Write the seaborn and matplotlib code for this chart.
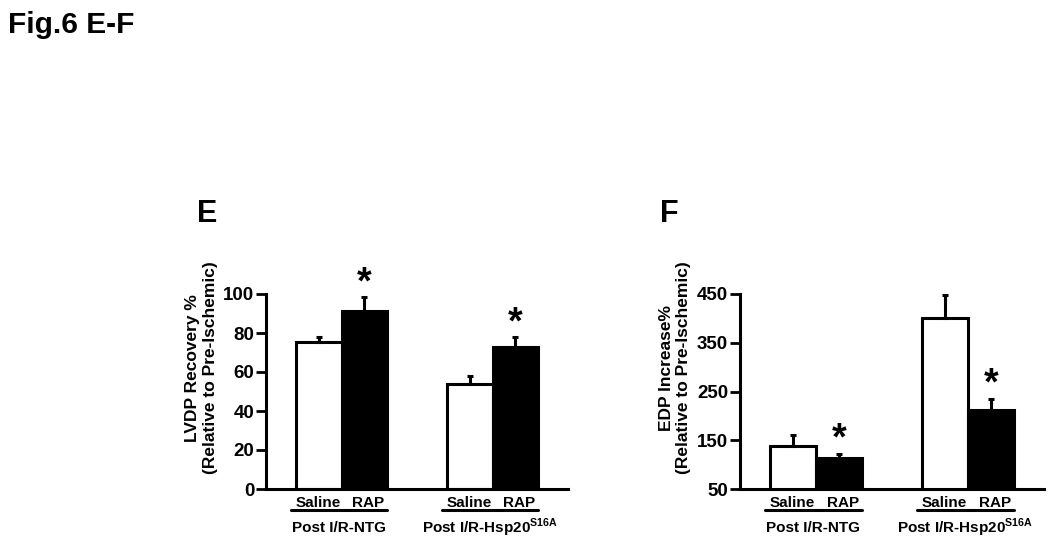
import pandas as pd
import seaborn as sns
import matplotlib.pyplot as plt

# values (mean and upper SEM)
groups = ["Post I/R-NTG", "Post I/R-Hsp20$^{\\mathbf{S16A}}$"]
treatments = ["Saline", "RAP"]

lvdp_mean = [75.5, 91.3, 53.7, 73.0]
lvdp_err = [2.3, 7.0, 4.4, 4.8]
lvdp_sig = [False, True, False, True]

edp_mean = [139.0, 113.0, 400.0, 213.0]
edp_err = [21.0, 8.5, 48.0, 22.0]
edp_sig = [False, True, False, True]

sns.set_style("ticks")
plt.rcParams["font.family"] = ["Liberation Sans", "DejaVu Sans"]
plt.rcParams["font.weight"] = "bold"
plt.rcParams["text.color"] = "black"
plt.rcParams["axes.labelcolor"] = "black"
plt.rcParams["xtick.color"] = "black"
plt.rcParams["ytick.color"] = "black"
plt.rcParams["mathtext.fontset"] = "custom"
plt.rcParams["mathtext.rm"] = "Liberation Sans:bold"
plt.rcParams["mathtext.bf"] = "Liberation Sans:bold"


def make_df(means):
    rows = []
    i = 0
    for g in groups:
        for t in treatments:
            rows.append({"group": g, "treatment": t, "value": means[i]})
            i += 1
    return pd.DataFrame(rows)


def draw_panel(ax, means, errs, sig, ylim, yticks, ylabel):
    df = make_df(means)
    sns.barplot(data=df, x="group", y="value", hue="treatment", order=groups,
                hue_order=treatments, palette={"Saline": "white", "RAP": "black"},
                edgecolor="black", linewidth=2.2, width=0.6, gap=0,
                errorbar=None, legend=False, ax=ax)

    bars = sorted(ax.patches, key=lambda p: p.get_x())
    xs = [b.get_x() + b.get_width() / 2 for b in bars]
    ax.errorbar(xs, means, yerr=[[0] * len(errs), errs], fmt="none",
                ecolor="black", elinewidth=2.2, capsize=2.5, capthick=2.2, zorder=1)

    for x, m, e, s in zip(xs, means, errs, sig):
        if s:
            ax.annotate("*", xy=(x, m + e), xytext=(0, 3), textcoords="offset points",
                        ha="center", va="baseline", fontsize=27, fontweight="bold",
                        color="black")

    ax.set_xlim(-0.5, 1.5)
    ax.set_ylim(*ylim)
    ax.set_yticks(yticks)
    ax.set_xticks([])
    ax.set_xlabel("")
    ax.set_ylabel(ylabel, fontsize=12.5, fontweight="bold", linespacing=1.2,
                  color="black")
    ax.yaxis.set_label_coords(-0.16, 0.62)
    ax.tick_params(axis="y", direction="out", length=7.5, width=2, pad=1,
                   labelsize=13.5, colors="black")
    for lab in ax.get_yticklabels():
        lab.set_fontweight("bold")
    sns.despine(ax=ax)
    for sp in ["left", "bottom"]:
        ax.spines[sp].set_linewidth(2.2)
        ax.spines[sp].set_color("black")

    # treatment labels, group underlines and group names
    for i, g in enumerate(groups):
        b1, b2 = bars[2 * i], bars[2 * i + 1]
        for b, t, dx in zip((b1, b2), treatments, (-0.5, 3)):
            ax.annotate(t, xy=(b.get_x() + b.get_width() / 2, 0),
                        xycoords=("data", "axes fraction"), xytext=(dx, -10),
                        textcoords="offset points", ha="center", va="center",
                        fontsize=11, fontweight="bold", color="black",
                        annotation_clip=False)
        x0 = b1.get_x() - 0.035
        x1 = b2.get_x() + b2.get_width()
        ax.plot([x0, x1], [-0.108, -0.108], color="black", lw=2.2,
                transform=ax.get_xaxis_transform(), clip_on=False)
        ax.annotate(g, xy=((x0 + x1) / 2, 0), xycoords=("data", "axes fraction"),
                    xytext=(0, -28), textcoords="offset points", ha="center",
                    va="center", fontsize=11, fontweight="bold", color="black",
                    annotation_clip=False)


fig = plt.figure(figsize=(10.5, 5.48), dpi=100)
ax_e = fig.add_axes([266 / 1050, 59 / 548, 302 / 1050, 195 / 548])
ax_f = fig.add_axes([740 / 1050, 59 / 548, 304 / 1050, 195 / 548])

draw_panel(ax_e, lvdp_mean, lvdp_err, lvdp_sig, (0, 100), [0, 20, 40, 60, 80, 100],
           "LVDP Recovery %\n(Relative to Pre-Ischemic)")
draw_panel(ax_f, edp_mean, edp_err, edp_sig, (50, 450), [50, 150, 250, 350, 450],
           "EDP Increase%\n(Relative to Pre-Ischemic)")

fig.text(8 / 1050, 1 - 11 / 548, "Fig.6 E-F", ha="left", va="top",
         fontsize=21.5, fontweight="bold")
fig.text(197 / 1050, 1 - 199 / 548, "E", ha="left", va="top", fontsize=22, fontweight="bold")
fig.text(660 / 1050, 1 - 199 / 548, "F", ha="left", va="top", fontsize=22, fontweight="bold")

fig.savefig("out.png", dpi=100, facecolor="white")
